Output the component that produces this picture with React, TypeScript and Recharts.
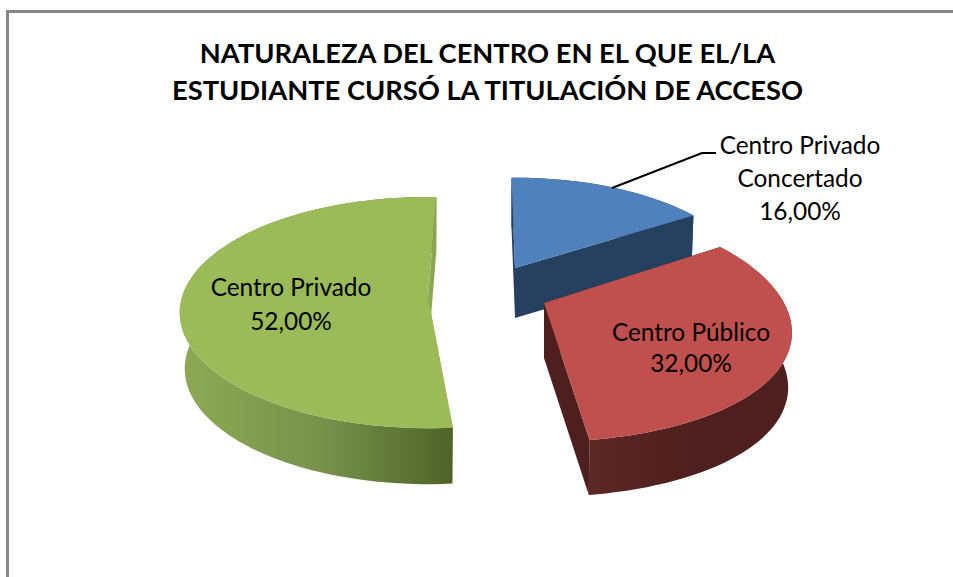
import React from 'react';
import { Pie, PieChart } from 'recharts';

const categories = ['Centro Privado Concertado', 'Centro Público', 'Centro Privado'];
const shares = [16, 32, 52];
const titleLines = [
  'NATURALEZA DEL CENTRO EN EL QUE EL/LA',
  'ESTUDIANTE CURSÓ LA TITULACIÓN DE ACCESO',
];
const labelLines = [['Centro Privado', 'Concertado'], ['Centro Público'], ['Centro Privado']];

const CHART_W = 953;
const CHART_H = 577;
const CX = 476;
const CY = 288;
const FONT = 'Lato, "Open Sans", sans-serif';

// the old 3D pie has its own perspective on each exploded slice
const sliceLook = [
  {
    dx: 39, dy: -20, rx: 229, ry: 102, persp: 0.13, perspY: 0.13, rot: -1, depth: 50, bottomX: 0.99,
    top: '#4f81bd', radial: '#264060', wall: ['#264060', '#264060', '#264060'],
  },
  {
    dx: 68, dy: 15, rx: 240, ry: 112.4, persp: 0.25, perspY: 0.19, rot: -1, depth: 55, bottomX: 0.985,
    top: '#c0504d', radial: '#4d1f1e', wall: ['#5c2725', '#4d1f1e', '#4d1f1e'],
  },
  {
    dx: -48, dy: 9, rx: 246, ry: 113.5, persp: 0.135, perspY: 0.135, rot: 2.2, depth: 56, bottomX: 0.98,
    top: '#9bbb59', radial: '#8aa650', wall: ['#8ea955', '#75904a', '#4f6228'],
  },
];

const labelLook = [
  { x: 800, y: 154, step: 33 },
  { x: 691, y: 341, step: 31 },
  { x: 291, y: 296, step: 33.5 },
];

const tableData = categories.map((name, i) => ({ name, value: shares[i] }));

const formatShare = (value: number) => `${value.toFixed(2).replace('.', ',')}%`;

const project = (look: (typeof sliceLook)[number], deg: number, cx: number, cy: number) => {
  const t = ((deg + look.rot) * Math.PI) / 180;
  return {
    x: cx + look.dx + (look.rx * Math.sin(t)) / (1 + look.persp * Math.cos(t)),
    y: cy + look.dy - (look.ry * Math.cos(t)) / (1 + look.perspY * Math.cos(t)),
  };
};

const SliceShape = (props: any) => {
  const { cx, cy, startAngle, endAngle, index } = props;
  const look = sliceLook[index];
  const from = 90 - startAngle;
  const to = 90 - endAngle;
  const tip = { x: cx + look.dx, y: cy + look.dy };

  const arc: { x: number; y: number }[] = [];
  for (let a = from; a < to; a += 2) arc.push(project(look, a, cx, cy));
  arc.push(project(look, to, cx, cy));

  const lower = (p: { x: number; y: number }) => ({
    x: tip.x + (p.x - tip.x) * look.bottomX,
    y: p.y + look.depth,
  });
  const toPath = (pts: { x: number; y: number }[]) =>
    `M${pts.map((p) => `${p.x.toFixed(1)},${p.y.toFixed(1)}`).join('L')}Z`;

  const first = arc[0];
  const last = arc[arc.length - 1];
  const gradId = `wall-${index}`;

  return (
    <g>
      <defs>
        <linearGradient id={gradId} x1="0" y1="0" x2="1" y2="0">
          <stop offset="0%" stopColor={look.wall[0]} />
          <stop offset="55%" stopColor={look.wall[1]} />
          <stop offset="100%" stopColor={look.wall[2]} />
        </linearGradient>
      </defs>
      <path d={toPath([first, lower(first), lower(tip), tip])} fill={look.radial} />
      <path d={toPath([...arc, ...arc.map(lower).reverse()])} fill={`url(#${gradId})`} />
      <path d={toPath([last, lower(last), lower(tip), tip])} fill={look.radial} />
      <path d={toPath([tip, ...arc])} fill={look.top} />
    </g>
  );
};

const SliceLabel = (props: any) => {
  const { index, value } = props;
  const pos = labelLook[index];
  const lines = [...labelLines[index], formatShare(value)];
  return (
    <g>
      {index === 0 && (
        <polyline points="612,188 702,153 716,153" fill="none" stroke="#000000" strokeWidth={2} />
      )}
      <text textAnchor="middle" fontFamily={FONT} fontSize={24.4} fill="#000000">
        {lines.map((line, i) => (
          <tspan key={line} x={pos.x} y={pos.y + i * pos.step}>
            {line}
          </tspan>
        ))}
      </text>
    </g>
  );
};

const App = () => (
  <div
    style={{
      position: 'absolute',
      left: 0,
      top: 0,
      width: CHART_W,
      height: CHART_H,
      overflow: 'hidden',
      background: '#ffffff',
    }}
  >
    <div
      style={{
        position: 'absolute',
        left: 6,
        top: 10,
        right: 0,
        bottom: 0,
        borderLeft: '3px solid #868686',
        borderTop: '3px solid #868686',
      }}
    />
    {titleLines.map((line, i) => (
      <div
        key={line}
        style={{
          position: 'absolute',
          left: 0,
          width: 975,
          top: 34 + i * 37,
          textAlign: 'center',
          fontFamily: FONT,
          fontWeight: 700,
          fontSize: 27.3,
          lineHeight: '37px',
          color: '#000000',
        }}
      >
        {line}
      </div>
    ))}
    <PieChart
      width={CHART_W}
      height={CHART_H}
      style={{ position: 'absolute', left: 0, top: 0 }}
      margin={{ top: 0, right: 0, bottom: 0, left: 0 }}
    >
      <Pie
        data={tableData}
        dataKey="value"
        nameKey="name"
        cx={CX}
        cy={CY}
        outerRadius={200}
        startAngle={90}
        endAngle={-270}
        stroke="none"
        shape={SliceShape}
        label={SliceLabel}
        labelLine={false}
        isAnimationActive={false}
      />
    </PieChart>
  </div>
);

export default App;
